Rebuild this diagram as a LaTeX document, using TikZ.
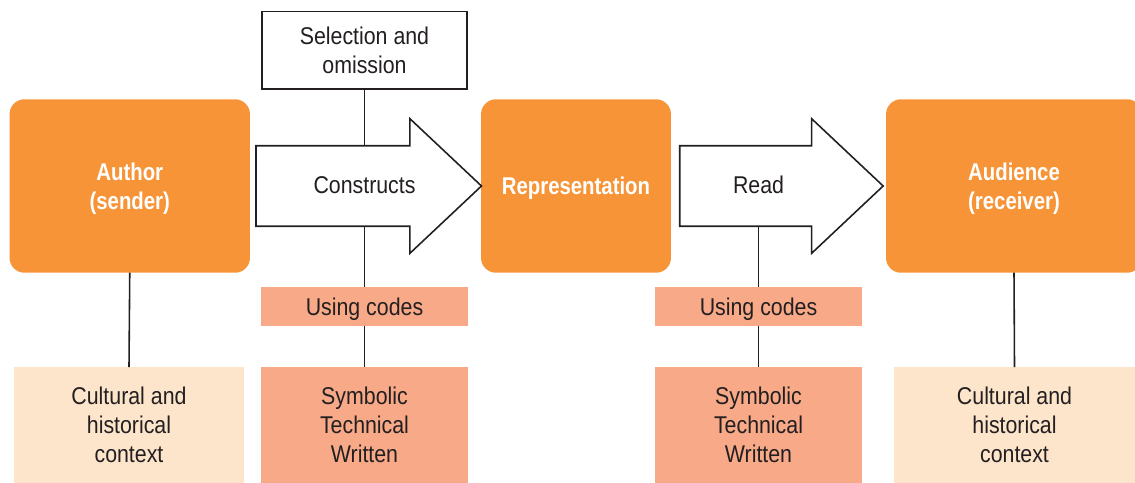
\documentclass[tikz,border=0pt]{standalone}
\usepackage{fontspec}
\setmainfont{Liberation Sans}[FakeStretch=0.88]
\newfontfamily\headfont{Liberation Sans}[FakeStretch=0.84]
\usetikzlibrary{shapes.arrows}
\definecolor{boxorange}{RGB}{247,148,55}
\definecolor{codesalmon}{RGB}{247,169,136}
\definecolor{ctxpeach}{RGB}{253,229,204}
\definecolor{ink}{RGB}{35,31,32}
\tikzset{
  agent/.style={rounded corners=0.3cm, fill=boxorange, text=white, align=center,
    inner sep=0pt, outer sep=0pt, text depth=0pt,
    font={\headfont\bfseries\fontsize{13.8}{16.5}\selectfont}},
  plainbox/.style={align=center, inner sep=0pt, outer sep=0pt, text=ink,
    font={\fontsize{13.8}{16.5}\selectfont}},
  notebox/.style={plainbox, draw=ink, line width=0.9pt, fill=white},
  codebox/.style={plainbox, fill=codesalmon},
  ctxbox/.style={plainbox, fill=ctxpeach},
  flowarrow/.style={single arrow, draw=ink, fill=white, line width=0.9pt, inner xsep=0pt,
    inner ysep=0.79cm, outer sep=0pt, single arrow head extend=0.54cm,
    single arrow tip angle=86.5, anchor=tail},
  link/.style={draw=ink, line width=0.9pt},
}
\begin{document}
\begin{tikzpicture}[x=0.02cm, y=-0.02cm]
  \useasboundingbox (0,0) rectangle (1135,483);
  % senders, message and receivers
  \node[agent, minimum width=4.81cm, minimum height=3.47cm] (author) at (129.75,186) {Author\\(sender)};
  \node[agent, minimum width=3.8cm, minimum height=3.47cm] (repr) at (576,186) {Representation};
  \node[agent, minimum width=5.12cm, minimum height=3.47cm] (aud) at (1014,186) {Audience\\(receiver)};
  % the two big arrows
  \node[flowarrow, minimum height=4.51cm] (cons) at (256,186) {};
  \node[flowarrow, minimum height=4.07cm] (read) at (679.7,186) {};
  \node[plainbox] (consT) at (364.5,185) {Constructs};
  \node[plainbox] (readT) at (758.5,185) {Read};
  % boxes above and below
  \node[notebox, minimum width=4.11cm, minimum height=1.55cm] (sel) at (364.5,50.3) {Selection and\\omission};
  \node[codebox, minimum width=4.14cm, minimum height=0.774cm, text depth=0pt] (codesA) at (364.5,306.3) {Using codes};
  \node[codebox, minimum width=4.14cm, minimum height=0.774cm, text depth=0pt] (codesB) at (758.5,306.3) {Using codes};
  \node[codebox, minimum width=4.14cm, minimum height=2.32cm] (symA) at (364.5,425) {Symbolic\\Technical\\Written};
  \node[codebox, minimum width=4.14cm, minimum height=2.32cm] (symB) at (758.5,425) {Symbolic\\Technical\\Written};
  \node[ctxbox, minimum width=4.6cm, minimum height=2.32cm] (ctxA) at (129,425) {Cultural and\\historical\\context};
  \node[ctxbox, minimum width=4.82cm, minimum height=2.32cm] (ctxB) at (1014.5,425) {Cultural and\\historical\\context};
  % connecting lines
  \draw[link] (author.south) -- (ctxA.north);
  \draw[link] (aud.south) -- (ctxB.north);
  \draw[link] (sel.south) -- (sel.south |- cons.north);
  \draw[link] (codesA.north |- cons.south) -- (codesA.north);
  \draw[link] (codesA.south) -- (symA.north);
  \draw[link] (codesB.north |- read.south) -- (codesB.north);
  \draw[link] (codesB.south) -- (symB.north);
\end{tikzpicture}
\end{document}
